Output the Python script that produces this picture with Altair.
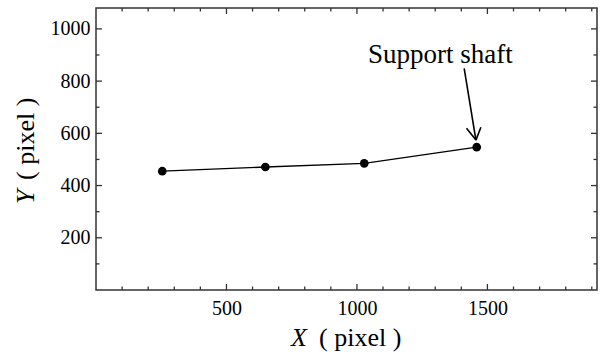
import altair as alt
import pandas as pd

# Measured centre positions (pixel coordinates in a 1920x1080 frame)
x_pos = [254, 649, 1028, 1459]
y_pos = [455, 471, 485, 547]

# Tick positions
x_major = [500, 1000, 1500]
x_minor = [100, 200, 300, 400, 600, 700, 800, 900, 1100, 1200, 1300, 1400,
           1600, 1700, 1800, 1900]
y_major = [200, 400, 600, 800, 1000]
y_minor = [100, 300, 500, 700, 900]

# Annotation: label and arrow (shaft tail/tip, two head wings)
note_text = ["Support shaft"]
note_x = [1042]
note_y = [868]
arrow_x = [1411, 1420, 1475]
arrow_y = [849, 619, 623]
arrow_x2 = [1456, 1456, 1456]
arrow_y2 = [574, 574, 574]

W, H = 501, 282
FONT = "Liberation Serif"
FRAME = "#333333"

xs = alt.Scale(domain=[0, 1920], nice=False, zero=False)
ys = alt.Scale(domain=[0, 1080], nice=False, zero=False)

pts = pd.DataFrame({"x": x_pos, "y": y_pos})

base = alt.Chart(pts).encode(
    x=alt.X("x:Q", scale=xs,
            axis=alt.Axis(values=x_major, format="d", ticks=False, domain=False,
                          grid=False, labelFont=FONT, labelFontSize=20,
                          labelColor="black", labelPadding=8, title=None)),
    y=alt.Y("y:Q", scale=ys,
            axis=alt.Axis(values=y_major, format="d", ticks=False, domain=False,
                          grid=False, labelFont=FONT, labelFontSize=20,
                          labelColor="black", labelPadding=6, title=None)),
)
line = base.mark_line(color="black", strokeWidth=1.3)
dots = base.mark_circle(color="black", size=75, opacity=1)


def xticks(vals, length):
    d = pd.DataFrame({"v": vals})
    bottom = alt.Chart(d).mark_rule(color=FRAME, strokeWidth=1.3).encode(
        x=alt.X("v:Q", scale=xs, title=None),
        y=alt.value(H), y2=alt.value(H - length))
    top = alt.Chart(d).mark_rule(color=FRAME, strokeWidth=1.3).encode(
        x=alt.X("v:Q", scale=xs, title=None),
        y=alt.value(0), y2=alt.value(length))
    return bottom + top


def yticks(vals, length):
    d = pd.DataFrame({"v": vals})
    left = alt.Chart(d).mark_rule(color=FRAME, strokeWidth=1.3).encode(
        y=alt.Y("v:Q", scale=ys, title=None),
        x=alt.value(0), x2=alt.value(length))
    right = alt.Chart(d).mark_rule(color=FRAME, strokeWidth=1.3).encode(
        y=alt.Y("v:Q", scale=ys, title=None),
        x=alt.value(W), x2=alt.value(W - length))
    return left + right


ticks = xticks(x_major, 6) + xticks(x_minor, 3.5) + yticks(y_major, 6) + yticks(y_minor, 3.5)

arrow = alt.Chart(pd.DataFrame({
    "x": arrow_x, "y": arrow_y, "x2": arrow_x2, "y2": arrow_y2
})).mark_rule(color="black", strokeWidth=1.6).encode(
    x=alt.X("x:Q", scale=xs, title=None),
    y=alt.Y("y:Q", scale=ys, title=None),
    x2="x2:Q", y2="y2:Q",
)

note = alt.Chart(pd.DataFrame({"t": note_text, "x": note_x, "y": note_y})).mark_text(
    font=FONT, fontSize=27, align="left", baseline="alphabetic", color="black"
).encode(
    x=alt.X("x:Q", scale=xs, title=None),
    y=alt.Y("y:Q", scale=ys, title=None),
    text="t:N",
)


def label(text, x, y, italic=False, angle=0):
    kw = dict(font=FONT, fontSize=26, align="left", baseline="alphabetic",
              color="black", angle=angle)
    if italic:
        kw["fontStyle"] = "italic"
    return alt.Chart(pd.DataFrame({"t": [text]})).mark_text(**kw).encode(
        x=alt.value(x), y=alt.value(y), text="t:N")


titles = (
    label("X", 195, 338, italic=True)
    + label("( pixel )", 223, 338)
    + label("Y", -62, 196, italic=True, angle=270)
    + label("( pixel )", -62, 172, angle=270)
)

chart = alt.layer(line, dots, ticks, arrow, note, titles).properties(
    width=W, height=H,
    autosize=alt.AutoSizeParams(type="none"),
    padding={"left": 96, "top": 8, "right": 3, "bottom": 68},
    background="white",
).configure_view(stroke=FRAME, strokeWidth=1.5)

chart.save("out.html", embed_options={"renderer": "svg", "actions": False})
